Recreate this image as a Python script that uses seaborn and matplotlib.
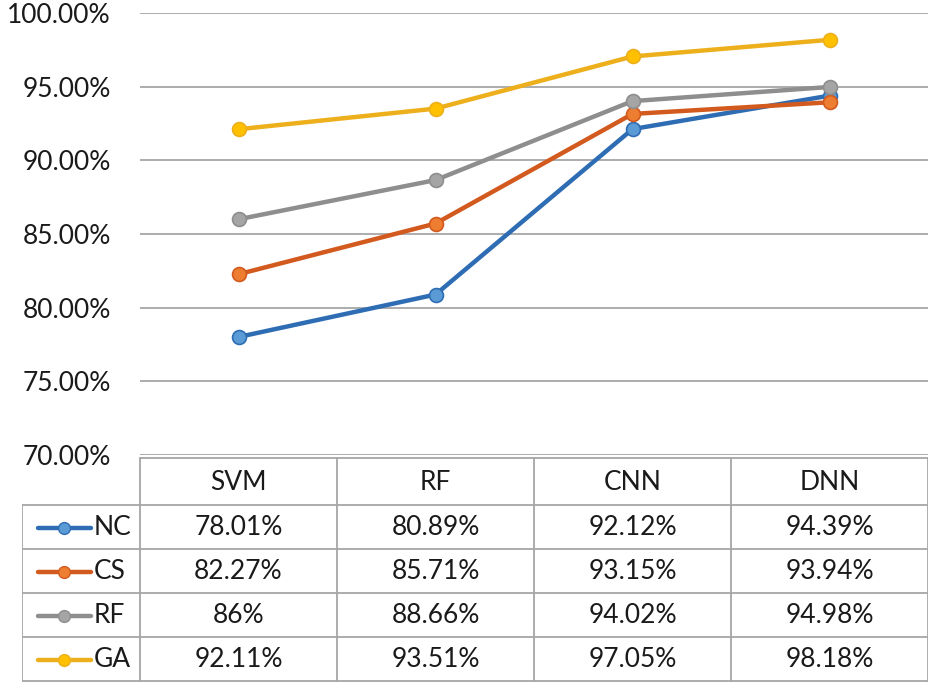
import pandas as pd
import numpy as np
import matplotlib
matplotlib.use('Agg')
import matplotlib.pyplot as plt
import seaborn as sb

# Chart data
models = ['SVM', 'RF', 'CNN', 'DNN']
series = ['NC', 'CS', 'RF', 'GA']
nc = [78.01, 80.89, 92.12, 94.39]
cs = [82.27, 85.71, 93.15, 93.94]
rf = [86.00, 88.66, 94.02, 94.98]
ga = [92.11, 93.51, 97.05, 98.18]
table_text = [['78.01%', '80.89%', '92.12%', '94.39%'],
              ['82.27%', '85.71%', '93.15%', '93.94%'],
              ['86%', '88.66%', '94.02%', '94.98%'],
              ['92.11%', '93.51%', '97.05%', '98.18%']]
y_ticks = [70, 75, 80, 85, 90, 95, 100]

line_colors = ['#2E6DB4', '#D35A1E', '#8E8E8E', '#EDB01C']
fill_colors = ['#5B9BD5', '#ED7D31', '#A5A5A5', '#FFC000']

# Long format for seaborn
df = pd.DataFrame({
    'model': models * 4,
    'pos': list(range(4)) * 4,
    'series': np.repeat(series, 4),
    'value': nc + cs + rf + ga,
})

sb.set_style('white')
plt.rcParams['font.family'] = ['Lato', 'DejaVu Sans']
FS = 19

W, H = 933, 697
fig = plt.figure(figsize=(W / 100, H / 100), dpi=100)

# Plot area
x0, x1 = 140, 928
y_top, y_bot = 13, 455
ax = fig.add_axes([x0 / W, 1 - y_bot / H, (x1 - x0) / W, (y_bot - y_top) / H])

for i, s in enumerate(series):
    sub = df[df['series'] == s]
    sb.lineplot(data=sub, x='pos', y='value', ax=ax, color=line_colors[i],
                linewidth=3.2, marker='o', markersize=10,
                markerfacecolor=fill_colors[i], markeredgecolor=line_colors[i],
                markeredgewidth=1.2, zorder=3 + i)

ax.set_xlim(-0.5, 3.5)
ax.set_ylim(70, 100)
ax.set_yticks(y_ticks)
ax.yaxis.grid(True, color='#A6A6A6', linewidth=1.3)
ax.set_yticklabels([f'{v:.2f}%' for v in y_ticks], fontsize=FS, color='#1a1a1a')
ax.tick_params(axis='y', length=0, pad=21)
ax.set_xticks([])
ax.set_xlabel('')
ax.set_ylabel('')
for sp in ax.spines.values():
    sp.set_visible(False)
ax.get_legend() and ax.get_legend().remove()

# Data table below the plot
t_left, t_bot = 22, 682
tab = fig.add_axes([t_left / W, 1 - t_bot / H, (x1 - t_left) / W, (t_bot - y_bot) / H])
tab.set_xlim(t_left, x1)
tab.set_ylim(t_bot, y_bot)
tab.axis('off')

col_edges = np.linspace(x0, x1, len(models) + 1)
row_edges = [458, 505, 549, 593, 637, 681]
gc = '#A6A6A6'
lw = 1.3
# header row lines
tab.plot([x0, x1], [row_edges[0]] * 2, color=gc, lw=lw)
for xe in col_edges:
    tab.plot([xe, xe], [row_edges[0], row_edges[-1]], color=gc, lw=lw)
for ye in row_edges[1:]:
    tab.plot([t_left, x1], [ye, ye], color=gc, lw=lw)
tab.plot([t_left, t_left], [row_edges[1], row_edges[-1]], color=gc, lw=lw)

col_mid = (col_edges[:-1] + col_edges[1:]) / 2
for j, m in enumerate(models):
    tab.text(col_mid[j], (row_edges[0] + row_edges[1]) / 2 + 1, m,
             ha='center', va='center', fontsize=FS, color='#1a1a1a')

for i, s in enumerate(series):
    ym = (row_edges[i + 1] + row_edges[i + 2]) / 2 + 1
    tab.plot([38, 91], [ym, ym], color=line_colors[i], lw=3.2, solid_capstyle='round')
    tab.plot([64], [ym], marker='o', markersize=8.5, color=fill_colors[i],
             markeredgecolor=line_colors[i], markeredgewidth=1)
    tab.text(94, ym, s, ha='left', va='center', fontsize=FS, color='#1a1a1a')
    for j in range(len(models)):
        tab.text(col_mid[j], ym, table_text[i][j], ha='center', va='center',
                 fontsize=FS, color='#1a1a1a')

fig.savefig('out.png', dpi=100, facecolor='white')
